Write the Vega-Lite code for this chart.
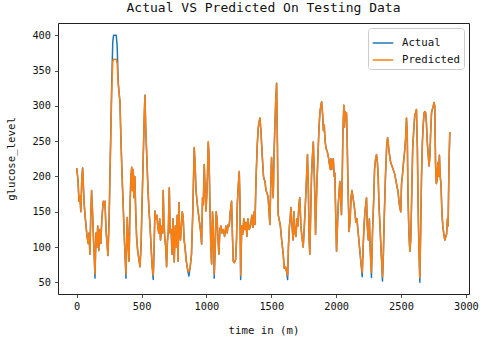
{
  "$schema": "https://vega.github.io/schema/vega-lite/v6.json",
  "autosize": {"type": "none"},
  "width": 411,
  "height": 271,
  "padding": {"left": 58, "top": 23, "right": 11, "bottom": 47},
  "background": "white",
  "title": {"text": "Actual VS Predicted On Testing Data", "font": "DejaVu Sans Mono", "fontSize": 13, "fontWeight": "normal", "color": "#111", "offset": 8},
  "data": {"values": [
    {"t":0,"a":212,"p":212},{"t":10,"a":195,"p":195},{"t":18,"a":165,"p":165},{"t":25,"a":172,"p":172},{"t":32,"a":150,"p":150},{"t":40,"a":200,"p":200},{"t":46,"a":212,"p":212},{"t":52,"a":185,"p":185},{"t":58,"a":160,"p":160},{"t":64,"a":146,"p":146},{"t":72,"a":130,"p":130},{"t":80,"a":115,"p":115},{"t":89,"a":105,"p":105},{"t":95,"a":120,"p":120},{"t":102,"a":90,"p":90},{"t":108,"a":140,"p":140},{"t":115,"a":180,"p":180},{"t":122,"a":150,"p":150},{"t":130,"a":110,"p":110},{"t":136,"a":85,"p":85},{"t":141,"a":56,"p":62},{"t":149,"a":120,"p":120},{"t":156,"a":100,"p":100},{"t":162,"a":130,"p":130},{"t":170,"a":95,"p":95},{"t":178,"a":125,"p":125},{"t":186,"a":105,"p":105},{"t":194,"a":140,"p":140},{"t":205,"a":165,"p":165},{"t":212,"a":160,"p":160},{"t":218,"a":165,"p":165},{"t":226,"a":125,"p":125},{"t":234,"a":105,"p":105},{"t":241,"a":88,"p":88},{"t":250,"a":140,"p":140},{"t":260,"a":235,"p":230},{"t":270,"a":330,"p":320},{"t":278,"a":390,"p":362},{"t":284,"a":400,"p":366},{"t":295,"a":400,"p":366},{"t":305,"a":400,"p":366},{"t":312,"a":385,"p":360},{"t":320,"a":335,"p":330},{"t":326,"a":320,"p":320},{"t":334,"a":305,"p":305},{"t":340,"a":260,"p":260},{"t":350,"a":200,"p":200},{"t":359,"a":156,"p":156},{"t":368,"a":110,"p":110},{"t":375,"a":80,"p":80},{"t":380,"a":56,"p":62},{"t":385,"a":100,"p":100},{"t":390,"a":142,"p":142},{"t":396,"a":110,"p":110},{"t":404,"a":80,"p":80},{"t":410,"a":150,"p":150},{"t":418,"a":200,"p":200},{"t":424,"a":213,"p":213},{"t":430,"a":180,"p":180},{"t":436,"a":210,"p":210},{"t":442,"a":170,"p":170},{"t":448,"a":200,"p":200},{"t":455,"a":150,"p":150},{"t":462,"a":114,"p":114},{"t":470,"a":95,"p":95},{"t":478,"a":85,"p":85},{"t":488,"a":72,"p":72},{"t":496,"a":100,"p":100},{"t":505,"a":170,"p":170},{"t":513,"a":227,"p":227},{"t":520,"a":280,"p":280},{"t":526,"a":315,"p":315},{"t":532,"a":270,"p":270},{"t":539,"a":235,"p":235},{"t":550,"a":180,"p":180},{"t":558,"a":150,"p":150},{"t":565,"a":132,"p":132},{"t":575,"a":95,"p":95},{"t":583,"a":70,"p":70},{"t":590,"a":54,"p":60},{"t":597,"a":100,"p":100},{"t":603,"a":151,"p":151},{"t":610,"a":140,"p":140},{"t":618,"a":145,"p":145},{"t":625,"a":130,"p":130},{"t":632,"a":120,"p":120},{"t":640,"a":140,"p":140},{"t":646,"a":110,"p":110},{"t":655,"a":130,"p":130},{"t":662,"a":120,"p":120},{"t":667,"a":180,"p":180},{"t":672,"a":140,"p":140},{"t":680,"a":110,"p":110},{"t":687,"a":100,"p":100},{"t":693,"a":72,"p":72},{"t":700,"a":110,"p":110},{"t":706,"a":120,"p":120},{"t":714,"a":184,"p":184},{"t":720,"a":120,"p":120},{"t":728,"a":125,"p":125},{"t":735,"a":90,"p":90},{"t":742,"a":140,"p":140},{"t":748,"a":100,"p":100},{"t":752,"a":79,"p":79},{"t":760,"a":130,"p":130},{"t":768,"a":100,"p":100},{"t":775,"a":145,"p":145},{"t":782,"a":80,"p":80},{"t":788,"a":163,"p":163},{"t":794,"a":120,"p":120},{"t":800,"a":110,"p":110},{"t":807,"a":130,"p":130},{"t":814,"a":150,"p":150},{"t":821,"a":142,"p":142},{"t":828,"a":110,"p":110},{"t":835,"a":100,"p":100},{"t":845,"a":80,"p":80},{"t":855,"a":68,"p":68},{"t":865,"a":59,"p":65},{"t":875,"a":72,"p":72},{"t":885,"a":90,"p":90},{"t":895,"a":150,"p":150},{"t":906,"a":241,"p":241},{"t":912,"a":220,"p":220},{"t":920,"a":180,"p":180},{"t":930,"a":160,"p":160},{"t":940,"a":145,"p":145},{"t":950,"a":130,"p":130},{"t":957,"a":120,"p":120},{"t":963,"a":104,"p":104},{"t":970,"a":170,"p":170},{"t":976,"a":160,"p":160},{"t":983,"a":217,"p":217},{"t":990,"a":180,"p":180},{"t":996,"a":151,"p":151},{"t":1002,"a":170,"p":170},{"t":1008,"a":200,"p":200},{"t":1014,"a":249,"p":249},{"t":1020,"a":230,"p":230},{"t":1027,"a":160,"p":160},{"t":1034,"a":100,"p":100},{"t":1040,"a":76,"p":76},{"t":1047,"a":150,"p":150},{"t":1053,"a":130,"p":130},{"t":1060,"a":56,"p":62},{"t":1068,"a":100,"p":100},{"t":1075,"a":150,"p":150},{"t":1082,"a":140,"p":140},{"t":1090,"a":110,"p":110},{"t":1096,"a":90,"p":90},{"t":1104,"a":125,"p":125},{"t":1112,"a":130,"p":130},{"t":1120,"a":120,"p":120},{"t":1130,"a":125,"p":125},{"t":1140,"a":115,"p":115},{"t":1150,"a":130,"p":130},{"t":1160,"a":120,"p":120},{"t":1168,"a":132,"p":132},{"t":1176,"a":130,"p":130},{"t":1184,"a":150,"p":150},{"t":1194,"a":165,"p":165},{"t":1200,"a":120,"p":120},{"t":1207,"a":80,"p":80},{"t":1215,"a":78,"p":78},{"t":1225,"a":82,"p":82},{"t":1232,"a":110,"p":110},{"t":1238,"a":160,"p":160},{"t":1245,"a":185,"p":185},{"t":1253,"a":207,"p":207},{"t":1258,"a":170,"p":170},{"t":1264,"a":54,"p":60},{"t":1272,"a":130,"p":130},{"t":1280,"a":118,"p":118},{"t":1288,"a":140,"p":140},{"t":1296,"a":125,"p":125},{"t":1305,"a":135,"p":135},{"t":1312,"a":115,"p":115},{"t":1320,"a":140,"p":140},{"t":1330,"a":125,"p":125},{"t":1340,"a":130,"p":130},{"t":1350,"a":145,"p":145},{"t":1360,"a":128,"p":128},{"t":1368,"a":150,"p":150},{"t":1374,"a":132,"p":132},{"t":1383,"a":200,"p":200},{"t":1392,"a":245,"p":245},{"t":1400,"a":270,"p":270},{"t":1412,"a":283,"p":283},{"t":1420,"a":265,"p":265},{"t":1430,"a":230,"p":230},{"t":1440,"a":200,"p":200},{"t":1451,"a":193,"p":193},{"t":1460,"a":180,"p":180},{"t":1470,"a":175,"p":175},{"t":1476,"a":170,"p":170},{"t":1483,"a":150,"p":150},{"t":1489,"a":132,"p":132},{"t":1495,"a":180,"p":180},{"t":1502,"a":227,"p":227},{"t":1508,"a":200,"p":200},{"t":1515,"a":170,"p":170},{"t":1521,"a":230,"p":230},{"t":1528,"a":273,"p":273},{"t":1535,"a":310,"p":310},{"t":1541,"a":332,"p":332},{"t":1547,"a":250,"p":250},{"t":1553,"a":146,"p":146},{"t":1560,"a":140,"p":140},{"t":1570,"a":130,"p":130},{"t":1580,"a":110,"p":110},{"t":1592,"a":90,"p":90},{"t":1600,"a":70,"p":70},{"t":1610,"a":72,"p":72},{"t":1618,"a":65,"p":65},{"t":1626,"a":54,"p":60},{"t":1632,"a":100,"p":100},{"t":1640,"a":130,"p":130},{"t":1646,"a":140,"p":140},{"t":1651,"a":156,"p":156},{"t":1660,"a":130,"p":130},{"t":1668,"a":110,"p":110},{"t":1675,"a":150,"p":150},{"t":1682,"a":120,"p":120},{"t":1690,"a":115,"p":115},{"t":1698,"a":140,"p":140},{"t":1705,"a":130,"p":130},{"t":1713,"a":160,"p":160},{"t":1720,"a":170,"p":170},{"t":1728,"a":130,"p":130},{"t":1736,"a":115,"p":115},{"t":1746,"a":100,"p":100},{"t":1755,"a":130,"p":130},{"t":1765,"a":170,"p":170},{"t":1772,"a":200,"p":200},{"t":1779,"a":231,"p":231},{"t":1786,"a":180,"p":180},{"t":1792,"a":110,"p":110},{"t":1797,"a":90,"p":90},{"t":1804,"a":150,"p":150},{"t":1810,"a":200,"p":200},{"t":1816,"a":225,"p":225},{"t":1824,"a":249,"p":249},{"t":1832,"a":200,"p":200},{"t":1838,"a":150,"p":150},{"t":1841,"a":118,"p":118},{"t":1850,"a":180,"p":180},{"t":1860,"a":231,"p":231},{"t":1868,"a":270,"p":270},{"t":1875,"a":291,"p":291},{"t":1882,"a":300,"p":300},{"t":1888,"a":306,"p":306},{"t":1895,"a":290,"p":290},{"t":1902,"a":265,"p":265},{"t":1908,"a":273,"p":273},{"t":1915,"a":250,"p":250},{"t":1922,"a":240,"p":240},{"t":1932,"a":235,"p":235},{"t":1940,"a":228,"p":228},{"t":1948,"a":218,"p":218},{"t":1955,"a":210,"p":210},{"t":1960,"a":225,"p":225},{"t":1966,"a":210,"p":210},{"t":1972,"a":222,"p":222},{"t":1978,"a":225,"p":225},{"t":1985,"a":200,"p":200},{"t":1990,"a":205,"p":205},{"t":1996,"a":150,"p":150},{"t":2003,"a":94,"p":94},{"t":2010,"a":130,"p":130},{"t":2016,"a":160,"p":160},{"t":2022,"a":175,"p":175},{"t":2028,"a":193,"p":193},{"t":2035,"a":170,"p":170},{"t":2041,"a":146,"p":146},{"t":2047,"a":200,"p":200},{"t":2052,"a":260,"p":260},{"t":2059,"a":301,"p":301},{"t":2064,"a":270,"p":270},{"t":2070,"a":292,"p":292},{"t":2075,"a":280,"p":280},{"t":2080,"a":290,"p":290},{"t":2085,"a":250,"p":250},{"t":2092,"a":180,"p":180},{"t":2100,"a":122,"p":122},{"t":2108,"a":140,"p":140},{"t":2115,"a":170,"p":170},{"t":2122,"a":180,"p":180},{"t":2130,"a":170,"p":170},{"t":2138,"a":160,"p":160},{"t":2144,"a":151,"p":151},{"t":2152,"a":135,"p":135},{"t":2160,"a":140,"p":140},{"t":2170,"a":120,"p":120},{"t":2180,"a":100,"p":100},{"t":2190,"a":80,"p":80},{"t":2201,"a":58,"p":64},{"t":2208,"a":100,"p":100},{"t":2215,"a":130,"p":130},{"t":2222,"a":150,"p":150},{"t":2228,"a":160,"p":160},{"t":2234,"a":170,"p":170},{"t":2240,"a":130,"p":130},{"t":2248,"a":110,"p":110},{"t":2256,"a":140,"p":140},{"t":2262,"a":100,"p":100},{"t":2268,"a":75,"p":75},{"t":2272,"a":57,"p":64},{"t":2280,"a":120,"p":120},{"t":2290,"a":170,"p":170},{"t":2296,"a":210,"p":210},{"t":2304,"a":225,"p":225},{"t":2311,"a":231,"p":231},{"t":2318,"a":220,"p":220},{"t":2324,"a":200,"p":200},{"t":2330,"a":160,"p":160},{"t":2338,"a":130,"p":130},{"t":2345,"a":100,"p":100},{"t":2352,"a":75,"p":75},{"t":2357,"a":52,"p":58},{"t":2364,"a":90,"p":90},{"t":2372,"a":150,"p":150},{"t":2380,"a":200,"p":200},{"t":2390,"a":245,"p":245},{"t":2397,"a":255,"p":255},{"t":2405,"a":240,"p":240},{"t":2412,"a":230,"p":230},{"t":2420,"a":220,"p":220},{"t":2430,"a":215,"p":215},{"t":2440,"a":210,"p":210},{"t":2452,"a":203,"p":203},{"t":2460,"a":195,"p":195},{"t":2470,"a":185,"p":185},{"t":2477,"a":179,"p":179},{"t":2484,"a":165,"p":165},{"t":2491,"a":156,"p":156},{"t":2498,"a":150,"p":150},{"t":2504,"a":190,"p":190},{"t":2510,"a":200,"p":200},{"t":2516,"a":213,"p":213},{"t":2522,"a":225,"p":225},{"t":2530,"a":240,"p":240},{"t":2536,"a":255,"p":255},{"t":2542,"a":283,"p":283},{"t":2548,"a":260,"p":260},{"t":2554,"a":170,"p":170},{"t":2561,"a":120,"p":120},{"t":2568,"a":94,"p":94},{"t":2575,"a":110,"p":110},{"t":2582,"a":170,"p":170},{"t":2590,"a":240,"p":240},{"t":2598,"a":265,"p":265},{"t":2606,"a":287,"p":287},{"t":2612,"a":290,"p":290},{"t":2619,"a":295,"p":295},{"t":2626,"a":240,"p":240},{"t":2632,"a":156,"p":156},{"t":2638,"a":100,"p":100},{"t":2645,"a":50,"p":57},{"t":2652,"a":130,"p":130},{"t":2658,"a":200,"p":200},{"t":2665,"a":250,"p":250},{"t":2671,"a":273,"p":273},{"t":2678,"a":290,"p":290},{"t":2684,"a":292,"p":292},{"t":2690,"a":290,"p":290},{"t":2696,"a":275,"p":275},{"t":2702,"a":250,"p":250},{"t":2710,"a":230,"p":230},{"t":2716,"a":215,"p":215},{"t":2722,"a":227,"p":227},{"t":2728,"a":260,"p":260},{"t":2735,"a":290,"p":290},{"t":2741,"a":295,"p":295},{"t":2747,"a":298,"p":298},{"t":2754,"a":305,"p":305},{"t":2760,"a":300,"p":300},{"t":2766,"a":220,"p":220},{"t":2772,"a":190,"p":190},{"t":2778,"a":195,"p":195},{"t":2784,"a":220,"p":220},{"t":2790,"a":200,"p":200},{"t":2796,"a":230,"p":230},{"t":2802,"a":200,"p":200},{"t":2808,"a":190,"p":190},{"t":2815,"a":150,"p":150},{"t":2822,"a":130,"p":130},{"t":2830,"a":118,"p":118},{"t":2838,"a":110,"p":110},{"t":2845,"a":115,"p":115},{"t":2851,"a":118,"p":118},{"t":2858,"a":140,"p":140},{"t":2863,"a":130,"p":130},{"t":2870,"a":220,"p":220},{"t":2876,"a":263,"p":263}
  ]},
  "encoding": {
    "x": {"field": "t", "type": "quantitative", "title": "time in (m)",
      "scale": {"domain": [-144, 3024], "nice": false, "zero": false},
      "axis": {"values": [0, 500, 1000, 1500, 2000, 2500, 3000], "format": "d", "labelOverlap": false, "labelBound": false, "titlePadding": 14}}
  },
  "layer": [
    {"mark": {"type": "line", "strokeWidth": 1.5, "strokeJoin": "round"},
     "encoding": {
       "y": {"field": "a", "type": "quantitative", "title": "glucose_level",
         "scale": {"domain": [33.5, 417.5], "nice": false, "zero": false},
         "axis": {"values": [50, 100, 150, 200, 250, 300, 350, 400], "format": "d", "labelOverlap": false, "titlePadding": 15}},
       "color": {"datum": "Actual", "type": "nominal",
         "scale": {"domain": ["Actual", "Predicted"], "range": ["#1f77b4", "#ff7f0e"]},
         "legend": {"title": null, "orient": "top-right", "offset": 5, "symbolType": "stroke", "symbolSize": 420, "symbolStrokeWidth": 1.5, "strokeColor": "#cccccc", "fillColor": "white", "padding": 4, "cornerRadius": 3, "rowPadding": 1, "labelOffset": 8, "labelFontSize": 10.7, "labelFont": "DejaVu Sans Mono", "labelColor": "#111"}}
     }},
    {"mark": {"type": "line", "strokeWidth": 1.5, "strokeJoin": "round"},
     "encoding": {
       "y": {"field": "p", "type": "quantitative", "title": "glucose_level",
         "scale": {"domain": [33.5, 417.5], "nice": false, "zero": false},
         "axis": {"values": [50, 100, 150, 200, 250, 300, 350, 400], "format": "d", "labelOverlap": false, "titlePadding": 15}},
       "color": {"datum": "Predicted", "type": "nominal"}
     }}
  ],
  "config": {
    "view": {"stroke": "#222", "strokeWidth": 1},
    "axis": {"grid": false, "domain": false, "tickColor": "#222", "tickSize": 3.5, "tickWidth": 0.8,
      "labelFont": "DejaVu Sans Mono", "labelFontSize": 10.3, "labelColor": "#111", "labelPadding": 4,
      "titleFont": "DejaVu Sans Mono", "titleFontSize": 10.7, "titleFontWeight": "normal", "titleColor": "#111"},
    "axisY": {"labelOverlap": false}
  }
}
